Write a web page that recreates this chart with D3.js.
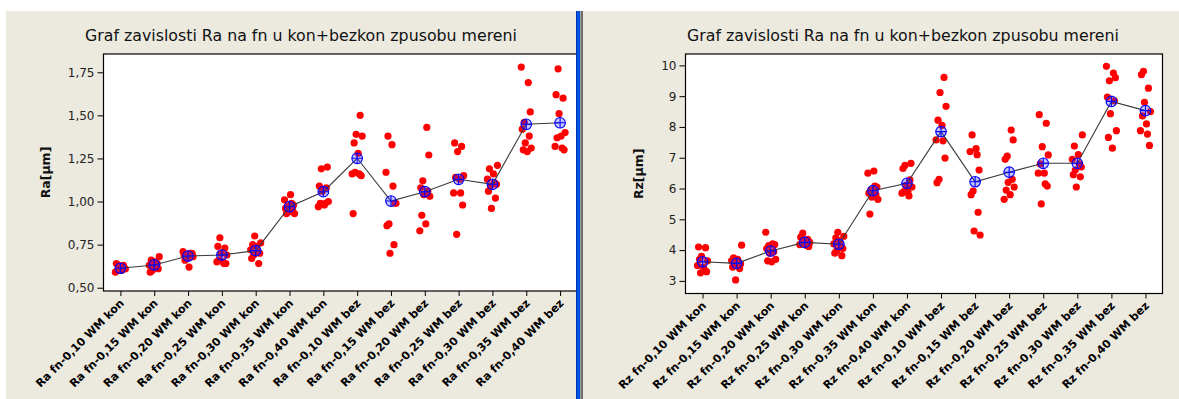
<!DOCTYPE html>
<html><head><meta charset="utf-8">
<script src="https://cdn.jsdelivr.net/npm/d3@7"></script>
<style>
html,body{margin:0;padding:0;background:#fff;}
svg{display:block;}
text{font-family:"DejaVu Sans",sans-serif;}
</style></head>
<body>
<svg id="c" width="1179" height="399"></svg>
<script>
// ---------- DATA ----------
const titleText = "Graf zavislosti Ra na fn u kon+bezkon zpusobu mereni";
const raCategories = [
  "Ra fn-0,10 WM kon","Ra fn-0,15 WM kon","Ra fn-0,20 WM kon","Ra fn-0,25 WM kon","Ra fn-0,30 WM kon","Ra fn-0,35 WM kon","Ra fn-0,40 WM kon",
  "Ra fn-0,10 WM bez","Ra fn-0,15 WM bez","Ra fn-0,20 WM bez","Ra fn-0,25 WM bez","Ra fn-0,30 WM bez","Ra fn-0,35 WM bez","Ra fn-0,40 WM bez"];
const rzCategories = [
  "Rz fn-0,10 WM kon","Rz fn-0,15 WM kon","Rz fn-0,20 WM kon","Rz fn-0,25 WM kon","Rz fn-0,30 WM kon","Rz fn-0,35 WM kon","Rz fn-0,40 WM kon",
  "Rz fn-0,10 WM bez","Rz fn-0,15 WM bez","Rz fn-0,20 WM bez","Rz fn-0,25 WM bez","Rz fn-0,30 WM bez","Rz fn-0,35 WM bez","Rz fn-0,40 WM bez"];

const raValues = [
  [0.64,0.63,0.62,0.61,0.60,0.60,0.59,0.62,0.61,0.63],
  [0.68,0.66,0.65,0.63,0.62,0.61,0.60,0.59,0.64,0.62],
  [0.71,0.70,0.70,0.69,0.69,0.68,0.67,0.68,0.66,0.62],
  [0.79,0.74,0.73,0.70,0.69,0.66,0.65,0.65,0.64,0.64],
  [0.80,0.76,0.75,0.74,0.72,0.71,0.70,0.69,0.67,0.64],
  [1.04,1.01,0.99,0.98,0.97,0.96,0.95,0.94,0.93,0.93],
  [1.20,1.19,1.09,1.08,1.06,1.00,0.99,0.98,0.97,0.99],
  [1.50,1.39,1.38,1.34,1.28,1.16,1.16,1.15,1.17,0.93],
  [1.38,1.33,1.17,1.09,0.99,0.87,0.86,0.75,0.70,0.99],
  [1.43,1.27,1.12,1.08,1.06,1.04,1.03,0.92,0.87,0.83],
  [1.34,1.32,1.29,1.15,1.14,1.13,1.05,1.05,0.98,0.81],
  [1.21,1.19,1.16,1.13,1.11,1.10,1.09,1.06,1.02,0.96],
  [1.78,1.69,1.52,1.46,1.42,1.38,1.34,1.31,1.30,1.29],
  [1.77,1.62,1.60,1.51,1.40,1.37,1.38,1.32,1.31,1.30]];
const raMeans = [0.613,0.632,0.684,0.690,0.715,0.970,1.057,1.251,1.003,1.057,1.129,1.100,1.448,1.457];

const rzValues = [
  [4.10,4.08,3.80,3.65,3.70,3.45,3.50,3.35,3.30,3.26],
  [4.16,3.75,3.70,3.65,3.60,3.55,3.50,3.45,3.40,3.03],
  [4.58,4.20,4.18,4.15,4.05,3.95,3.90,3.70,3.65,3.62],
  [4.55,4.42,4.35,4.30,4.25,4.22,4.20,4.18,4.15,4.12],
  [4.58,4.45,4.40,4.30,4.20,4.12,4.05,3.98,3.90,3.82],
  [6.57,6.50,6.08,6.05,5.95,5.85,5.80,5.72,5.65,5.17],
  [6.82,6.75,6.65,6.28,6.10,6.05,5.90,5.90,5.85,5.76],
  [9.61,9.12,8.67,8.22,8.05,7.58,7.55,6.99,6.30,6.19],
  [7.74,7.30,7.20,7.10,6.60,5.92,5.80,5.23,4.62,4.49],
  [7.90,7.58,7.05,6.95,6.30,6.20,6.05,5.95,5.80,5.65],
  [8.40,8.12,7.36,7.09,6.80,6.50,6.50,6.15,6.08,5.50],
  [7.74,7.38,7.10,6.95,6.80,6.70,6.60,6.45,6.38,6.05],
  [9.97,9.75,9.60,9.50,8.97,8.85,8.43,7.88,7.66,7.31],
  [9.81,9.70,9.26,8.80,8.50,8.36,8.10,7.88,7.77,7.40]];
const rzMeans = [3.62,3.57,3.97,4.25,4.19,5.93,6.17,7.85,6.22,6.53,6.82,6.82,8.83,8.53];

const raTicks = [0.50,0.75,1.00,1.25,1.50,1.75];
const rzTicks = [3,4,5,6,7,8,9,10];

// ---------- DRAW ----------
const svg = d3.select("#c");
const BG = "#ECE9DF";
svg.append("rect").attr("x",0).attr("y",0).attr("width",1179).attr("height",399).attr("fill","#fff");
svg.append("rect").attr("x",6).attr("y",11).attr("width",571).attr("height",388).attr("fill",BG);
svg.append("rect").attr("x",583).attr("y",11).attr("width",596).attr("height",388).attr("fill",BG);

const jitter = [-4,3,-1,5,-3,1,-5,2,4,-2];

function panel(cfg){
  const g = svg.append("g");
  const x = d3.scalePoint().domain(cfg.cats).range([cfg.x0,cfg.x1]).padding(0.5);
  const y = d3.scaleLinear().domain(cfg.ydom).range([cfg.y1,cfg.y0]);
  g.append("rect").attr("x",cfg.x0).attr("y",cfg.y0).attr("width",cfg.x1-cfg.x0).attr("height",cfg.y1-cfg.y0)
    .attr("fill","#fff").attr("stroke","#000").attr("stroke-width",1.2);
  cfg.values.forEach((vals,i)=>{
    g.selectAll(null).data(vals).enter().append("circle")
      .attr("cx",(d,j)=>x(cfg.cats[i])+jitter[(j+i*3)%jitter.length])
      .attr("cy",d=>y(d)).attr("r",3.6).attr("fill","#FF0000");
  });
  const line = d3.line().x((d,i)=>x(cfg.cats[i])).y(d=>y(d));
  g.append("path").attr("d",line(cfg.means)).attr("fill","none").attr("stroke","#3a3a3a").attr("stroke-width",1.1);
  const m = g.selectAll(null).data(cfg.means).enter().append("g")
    .attr("transform",(d,i)=>`translate(${x(cfg.cats[i])},${y(d)})`);
  m.append("circle").attr("r",5.3).attr("fill","rgba(60,60,255,0.3)").attr("stroke","#0000FF").attr("stroke-width",1.1);
  m.append("path").attr("d","M-5.3,0H5.3M0,-5.3V5.3").attr("stroke","#0000FF").attr("stroke-width",1.1);
  const ya = g.append("g").attr("transform",`translate(${cfg.x0},0)`)
    .call(d3.axisLeft(y).tickValues(cfg.ticks).tickSize(6).tickPadding(3).tickFormat(cfg.fmt));
  ya.select(".domain").remove();
  ya.selectAll("text").attr("font-size",12).attr("fill","#222").attr("font-family","DejaVu Sans");
  const xa = g.append("g").attr("transform",`translate(0,${cfg.y1})`)
    .call(d3.axisBottom(x).tickSize(5).tickFormat(""));
  xa.select(".domain").remove();
  xa.selectAll(".tick").append("text")
    .attr("transform","translate(1,10) rotate(-45)")
    .attr("text-anchor","end").attr("dy","0.35em")
    .attr("font-size",11.2).attr("font-weight","bold").attr("fill","#000")
    .attr("font-family","DejaVu Sans")
    .text(d=>d);
  g.append("text").attr("x",cfg.tx).attr("y",41).attr("text-anchor","middle")
    .attr("font-size",15.8).attr("fill","#111").text(titleText);
  g.append("text").attr("transform",`translate(${cfg.lx},${(cfg.y0+cfg.y1)/2}) rotate(-90)`)
    .attr("text-anchor","middle").attr("font-size",12.5).attr("font-weight","bold").attr("fill","#111")
    .text(cfg.ylabel);
}

panel({cats:raCategories, values:raValues, means:raMeans, x0:103.5, x1:577, y0:54, y1:291,
  ydom:[0.481,1.856], ticks:raTicks, fmt:d=>d3.format(".2f")(d).replace(".",","),
  tx:301, lx:50, ylabel:"Ra[µm]"});
panel({cats:rzCategories, values:rzValues, means:rzMeans, x0:685.5, x1:1162.5, y0:54, y1:293.5,
  ydom:[2.59,10.37], ticks:rzTicks, fmt:d=>String(d),
  tx:903, lx:643, ylabel:"Rz[µm]"});

svg.append("rect").attr("x",576).attr("y",11).attr("width",1).attr("height",388).attr("fill","#0030B0");
svg.append("rect").attr("x",577).attr("y",11).attr("width",3).attr("height",388).attr("fill","#0054E3");
svg.append("rect").attr("x",580).attr("y",11).attr("width",1).attr("height",388).attr("fill","#A0A0A0");
svg.append("rect").attr("x",581).attr("y",11).attr("width",2).attr("height",388).attr("fill","#707070");
</script>
</body></html>
